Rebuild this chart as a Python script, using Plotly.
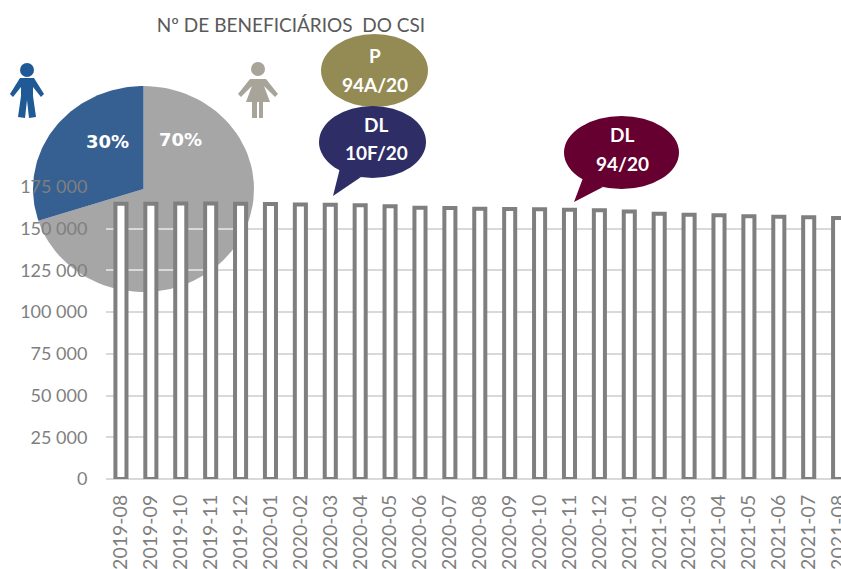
import numpy as np
import plotly.graph_objects as go

W, H = 841, 569

months = ['2019-08', '2019-09', '2019-10', '2019-11', '2019-12', '2020-01', '2020-02', '2020-03', '2020-04',
          '2020-05', '2020-06', '2020-07', '2020-08', '2020-09', '2020-10', '2020-11', '2020-12', '2021-01',
          '2021-02', '2021-03', '2021-04', '2021-05', '2021-06', '2021-07', '2021-08']
beneficiarios = [165000, 165000, 165100, 165100, 164900, 164800, 164500, 164400, 164000,
                 163400, 162600, 162400, 162000, 161800, 161600, 161400, 161000, 160300,
                 159000, 158400, 158000, 157400, 157200, 156800, 156400]

sexo = ['Mulheres', 'Homens']
sexo_pct = [70, 30]
sexo_cores = ['#a6a6a6', '#376092']

GREY = '#7f7f7f'


def px(x, y):
    # pixel position in the picture -> paper coordinates
    return x / W, 1 - y / H


def path(points):
    pts = [px(x, y) for x, y in points]
    return 'M' + ' L'.join(f'{x:.5f},{y:.5f}' for x, y in pts) + ' Z'


def ellipse(x0, y0, x1, y1, color):
    a, b = px(x0, y1), px(x1, y0)
    return dict(type='circle', xref='paper', yref='paper', x0=a[0], y0=a[1], x1=b[0], y1=b[1],
                fillcolor=color, line_width=0)


def polygon(points, color):
    return dict(type='path', xref='paper', yref='paper', path=path(points), fillcolor=color, line_width=0)


def label(x, y, text, size=19, family='Lato', bold=True):
    ax, ay = px(x, y)
    return dict(xref='paper', yref='paper', x=ax, y=ay, text=f'<b>{text}</b>' if bold else text, showarrow=False,
                xanchor='center', yanchor='middle', font=dict(family=family, size=size, color='white'))


fig = go.Figure()

# pie has to sit under the bars and the grid, so it is drawn as filled slices on its own
# subplot (a real go.Pie always renders above cartesian traces); the original is also slightly elliptical
start = 0
for nome, pct, cor in zip(sexo, sexo_pct, sexo_cores):
    theta = np.radians(np.linspace(start, start + pct * 3.6, 80))
    fig.add_trace(go.Scatter(x=np.r_[0, np.sin(theta), 0], y=np.r_[0, np.cos(theta), 0], mode='lines', fill='toself',
                             fillcolor=cor, line=dict(width=0, color=cor), name=nome, xaxis='x', yaxis='y',
                             hoverinfo='name'))
    start += pct * 3.6

fig.add_trace(go.Bar(x=months, y=beneficiarios, width=0.37, xaxis='x2', yaxis='y2', name='Beneficiários',
                     marker=dict(color='white', line=dict(color=GREY, width=4))))

shapes = [
    # balloons
    ellipse(321, 34, 428, 107, '#948b54'),
    ellipse(319, 106, 426, 178, '#2e2d66'),
    polygon([(340, 168), (333, 196), (361, 177)], '#2e2d66'),
    ellipse(564, 116, 679, 189, '#660030'),
    polygon([(583, 178), (574, 202), (603, 187)], '#660030'),
    # man
    ellipse(20, 63, 34, 77, '#1f5a96'),
    polygon([(20, 78), (34, 78), (44, 94), (41, 97), (33, 87), (33, 96), (36, 117), (29, 118), (27, 100),
             (25, 118), (18, 117), (21, 96), (21, 87), (13, 97), (10, 94)], '#1f5a96'),
    # woman
    ellipse(251, 62, 265, 76, '#a8a499'),
    polygon([(250, 79), (266, 79), (278, 94), (275, 97), (264, 86), (270, 102), (263, 102), (263, 118), (259, 118),
             (259, 102), (257, 102), (257, 118), (252, 118), (252, 102), (246, 102), (252, 86), (241, 97),
             (238, 94)], '#a8a499'),
]

annotations = [
    label(375, 56, 'P'),
    label(375, 84, '94A/20'),
    label(376, 125, 'DL'),
    label(376, 153, '10F/20'),
    label(622, 135, 'DL'),
    label(622, 163, '94/20'),
    label(107, 141, f'{sexo_pct[1]}%', size=18, family='DejaVu Sans'),
    label(180, 139, f'{sexo_pct[0]}%', size=18, family='DejaVu Sans'),
]

fig.update_layout(
    width=W, height=H,
    margin=dict(l=0, r=0, t=0, b=0),
    paper_bgcolor='white', plot_bgcolor='rgba(0,0,0,0)',
    showlegend=False,
    separators=', ',
    title=dict(text='Nº DE BENEFICIÁRIOS\u00a0\u00a0DO CSI', x=291 / W, xanchor='center', y=1 - 25 / H, yanchor='middle',
               font=dict(family='Lato', size=19, color='#595959')),
    shapes=shapes,
    annotations=annotations,
    xaxis=dict(domain=[33 / W, 254 / W], range=[-1, 1], visible=False),
    yaxis=dict(domain=[1 - 292 / H, 1 - 86 / H], range=[-1, 1], visible=False),
    xaxis2=dict(domain=[106 / W, 1], anchor='y2', type='category', range=[-0.5, 24.08], tickangle=-90,
                automargin=False, showgrid=False, showline=False, ticks='outside', ticklen=7,
                tickcolor='rgba(0,0,0,0)', tickfont=dict(family='Lato', size=19.5, color=GREY)),
    yaxis2=dict(domain=[1 - 479 / H, 1 - 187 / H], anchor='x2', range=[0, 175000], dtick=25000, tickformat=',d',
                automargin=False, gridcolor='#d9d9d9', gridwidth=1.5, zeroline=True, zerolinecolor='#d9d9d9',
                zerolinewidth=1.5, showline=False, ticks='outside', ticklen=14, tickcolor='rgba(0,0,0,0)',
                tickfont=dict(family='Lato', size=18, color=GREY)),
)

# the page's default body margin would push the figure 8px down and right
fig.write_html("out.html", config=dict(displayModeBar=False), post_script="document.body.style.margin='0';")
